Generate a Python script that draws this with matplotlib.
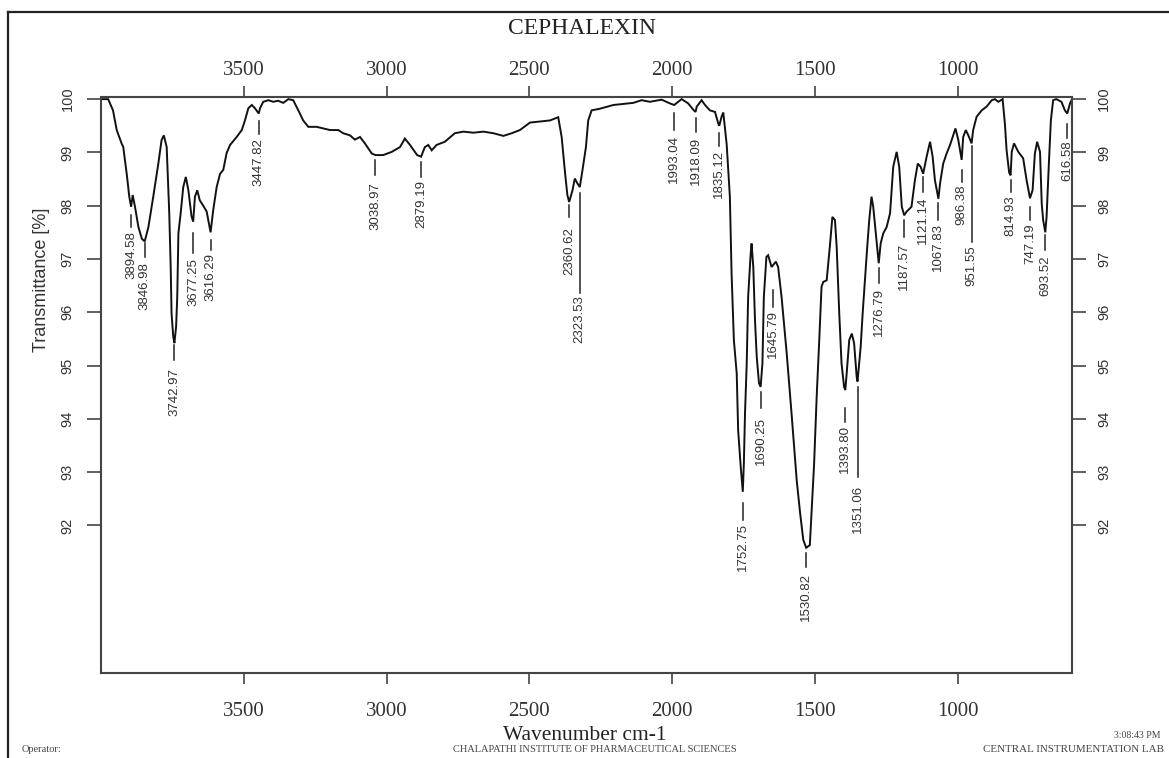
import matplotlib
matplotlib.use("Agg")
import matplotlib.pyplot as plt
from matplotlib import font_manager
from matplotlib.lines import Line2D

# IR spectrum of cephalexin, transmittance vs wavenumber (cm-1)
wavenumber = [
    4000, 3975, 3958, 3945, 3928, 3922, 3910, 3901, 3894.58, 3889, 3881, 3869, 3857, 3846.98,
    3834, 3817, 3799, 3788, 3780, 3770, 3761, 3756, 3753, 3747, 3742.97, 3737, 3733, 3729,
    3721, 3712, 3703, 3694, 3683, 3677.25, 3671, 3663, 3654, 3642, 3630, 3616.29, 3607, 3595,
    3583, 3572, 3560, 3548, 3525, 3507, 3496, 3484, 3472, 3461, 3447.82, 3443, 3432, 3414,
    3397, 3380, 3362, 3344, 3327, 3309, 3292, 3274, 3245, 3222, 3198, 3169, 3152, 3128,
    3111, 3093, 3076, 3052, 3038.97, 3012, 2982, 2953, 2936, 2918, 2893, 2879.19, 2866, 2854,
    2842, 2825, 2796, 2761, 2731, 2696, 2661, 2626, 2591, 2562, 2533, 2498, 2463, 2428,
    2399, 2387, 2375, 2367, 2360.62, 2349, 2341, 2332, 2323.53, 2314, 2302, 2294, 2282, 2253,
    2206, 2171, 2136, 2107, 2078, 2037, 2008, 1993.04, 1979, 1967, 1944, 1926, 1918.09, 1914,
    1897, 1885, 1868, 1850, 1839, 1835.12, 1827, 1821, 1809, 1798, 1792, 1784, 1774, 1769,
    1760, 1752.75, 1749, 1745, 1739, 1734, 1725, 1722, 1716, 1710, 1704, 1696, 1690.25, 1684,
    1679, 1670, 1664, 1652, 1645.79, 1637, 1629, 1617, 1599, 1582, 1564, 1552, 1541, 1530.82,
    1518, 1512, 1503, 1494, 1485, 1477, 1471, 1459, 1448, 1439, 1430, 1424, 1415, 1407,
    1398, 1393.80, 1389, 1380, 1371, 1363, 1354, 1351.06, 1340, 1333, 1325, 1317, 1310, 1302,
    1296, 1286, 1276.79, 1270, 1261, 1249, 1237, 1226, 1214, 1205, 1196, 1187.57, 1179, 1162,
    1150, 1140, 1130, 1121.14, 1109, 1097, 1088, 1080, 1067.83, 1062, 1051, 1039, 1027, 1016,
    1008, 998, 986.38, 981, 972, 963, 951.55, 946, 934, 916, 899, 881, 870, 858,
    843, 835, 829, 820, 814.93, 811, 803, 788, 771, 759, 747.19, 738, 730, 722,
    712, 706, 701, 693.52, 689, 681, 674, 666, 655, 637, 625, 616.58, 607, 600,
]
transmittance = [
    100.0, 100.0, 99.79, 99.42, 99.17, 99.10, 98.60, 98.17, 97.98, 98.20, 97.98, 97.60, 97.38, 97.33,
    97.60, 98.17, 98.80, 99.23, 99.32, 99.10, 97.86, 96.85, 95.98, 95.54, 95.42, 95.73, 96.29, 97.48,
    97.86, 98.35, 98.54, 98.29, 97.80, 97.70, 98.17, 98.29, 98.10, 98.00, 97.89, 97.50, 97.92, 98.35,
    98.60, 98.67, 98.99, 99.14, 99.29, 99.42, 99.60, 99.83, 99.89, 99.83, 99.73, 99.83, 99.95, 99.98,
    99.95, 99.97, 99.93, 100.0, 99.98, 99.79, 99.60, 99.48, 99.48, 99.45, 99.42, 99.42, 99.36, 99.32,
    99.24, 99.29, 99.17, 98.98, 98.95, 98.95, 99.01, 99.10, 99.26, 99.14, 98.95, 98.92, 99.10, 99.14,
    99.04, 99.14, 99.20, 99.36, 99.39, 99.37, 99.39, 99.36, 99.31, 99.36, 99.42, 99.56, 99.58, 99.60,
    99.66, 99.29, 98.61, 98.20, 98.07, 98.29, 98.51, 98.42, 98.35, 98.67, 99.10, 99.60, 99.79, 99.82,
    99.89, 99.91, 99.93, 99.98, 99.95, 99.99, 99.92, 99.89, 99.95, 100.0, 99.92, 99.80, 99.76, 99.86,
    99.98, 99.89, 99.79, 99.76, 99.55, 99.50, 99.67, 99.75, 99.14, 98.17, 96.73, 95.48, 94.85, 93.79,
    93.10, 92.63, 93.16, 94.10, 95.04, 96.29, 97.11, 97.29, 96.85, 95.85, 95.17, 94.67, 94.60, 95.04,
    96.29, 97.04, 97.07, 96.85, 96.89, 96.95, 96.85, 96.29, 95.23, 94.10, 92.85, 92.23, 91.73, 91.58,
    91.63, 92.23, 93.16, 94.42, 95.48, 96.48, 96.57, 96.60, 97.23, 97.79, 97.73, 97.23, 95.98, 95.04,
    94.60, 94.54, 94.85, 95.48, 95.60, 95.42, 94.79, 94.70, 95.35, 95.98, 96.60, 97.23, 97.73, 98.17,
    97.98, 97.42, 96.92, 97.29, 97.48, 97.60, 97.86, 98.73, 99.01, 98.73, 97.98, 97.82, 97.89, 97.98,
    98.48, 98.79, 98.73, 98.60, 98.92, 99.20, 98.92, 98.48, 98.13, 98.42, 98.79, 98.98, 99.14, 99.32,
    99.45, 99.23, 98.86, 99.29, 99.42, 99.32, 99.17, 99.42, 99.67, 99.79, 99.86, 99.98, 100.0, 99.95,
    100.0, 99.54, 99.04, 98.62, 98.57, 99.01, 99.17, 99.01, 98.89, 98.48, 98.14, 98.29, 98.98, 99.20,
    99.01, 98.04, 97.73, 97.50, 97.79, 98.79, 99.60, 99.98, 100.0, 99.95, 99.79, 99.73, 99.92, 100.0,
]

# labelled band positions
peaks = [3894.58, 3846.98, 3742.97, 3677.25, 3616.29, 3447.82, 3038.97, 2879.19, 2360.62,
         2323.53, 1993.04, 1918.09, 1835.12, 1752.75, 1690.25, 1645.79, 1530.82, 1393.80,
         1351.06, 1276.79, 1187.57, 1121.14, 1067.83, 986.38, 951.55, 814.93, 747.19,
         693.52, 616.58]

# label layout in pixels below the band: (gap, tick length, gap before text)
label_layout = [(8, 12, 4), (2, 14, 5), (2, 15, 8), (11, 20, 5), (8, 10, 3), (7, 13, 5),
                (5, 15, 7), (5, 15, 3), (3, 12, 10), (6, 100, 2), (8, 17, 5), (6, 14, 5),
                (7, 13, 4), (11, 17, 3), (5, 16, 9), (25, 17, 3), (5, 14, 6), (18, 14, 3),
                (5, 90, 8), (5, 15, 5), (5, 17, 6), (3, 15, 5), (4, 17, 3), (10, 12, 3),
                (3, 96, 3), (5, 12, 3), (9, 13, 3), (3, 15, 5), (10, 14, 3)]

x_ticks = [3500, 3000, 2500, 2000, 1500, 1000]
y_ticks = [92, 93, 94, 95, 96, 97, 98, 99, 100]

installed = {f.name for f in font_manager.fontManager.ttflist}
sans = ["Liberation Sans Narrow", "Liberation Sans", "DejaVu Sans"]
sans = [f for f in sans if f in installed] or ["DejaVu Sans"]
serif = ["Liberation Serif", "DejaVu Serif"]

W, H = 1169, 758
fig = plt.figure(figsize=(W / 100, H / 100), dpi=100)
fig.patch.set_facecolor("white")

# page border (cut at the right and bottom)
fig.add_artist(Line2D([8 / W, 8 / W], [0, 1 - 12 / H], color="#222222", lw=1.6))
fig.add_artist(Line2D([8 / W, 1], [1 - 12 / H, 1 - 12 / H], color="#222222", lw=1.6))

ax_l, ax_r, ax_t, ax_b = 101, 1072, 97, 673
ax = fig.add_axes([ax_l / W, 1 - ax_b / H, (ax_r - ax_l) / W, (ax_b - ax_t) / H])
ymin, ymax = 89.23, 100.04
ax.set_xlim(4000, 600)
ax.set_ylim(ymin, ymax)
t_per_px = (ymax - ymin) / (ax_b - ax_t)

ax.plot(wavenumber, transmittance, color="#111111", lw=1.4, solid_joinstyle="miter")

text_col = "#333333"
for wn, (gap, tick, tgap) in zip(peaks, label_layout):
    t = transmittance[wavenumber.index(wn)]
    y0 = t - gap * t_per_px
    y1 = t - (gap + tick) * t_per_px
    ax.plot([wn, wn], [y0, y1], color="#222222", lw=1.1)
    ax.text(wn, y1 - tgap * t_per_px, f"{wn:.2f}", rotation=90, ha="center", va="top",
            fontsize=9.5, family=sans, color=text_col)

for s in ax.spines.values():
    s.set_color("#444444")
    s.set_linewidth(1.5)

# bottom / left axes
ax.set_xticks(x_ticks)
ax.set_xticklabels([str(v) for v in x_ticks], family=serif, fontsize=15, color=text_col)
ax.tick_params(axis="x", direction="out", length=8, width=1.2, color="#444444", pad=13)
ax.set_yticks(y_ticks)
ax.set_yticklabels([str(v) for v in y_ticks], rotation=90, va="center", family=sans,
                   fontsize=10.5, color=text_col)
ax.tick_params(axis="y", direction="out", length=10, width=1.2, color="#444444", pad=9)

# top / right axes mirror the scales
top = ax.secondary_xaxis("top")
top.set_xticks(x_ticks)
top.set_xticklabels([str(v) for v in x_ticks], family=serif, fontsize=15, color=text_col)
top.tick_params(direction="out", length=8, width=1.2, color="#444444", pad=4)
top.spines["top"].set_visible(False)
right = ax.secondary_yaxis("right")
right.set_yticks(y_ticks)
right.set_yticklabels([str(v) for v in y_ticks], rotation=90, va="center", family=sans,
                      fontsize=10.5, color=text_col)
right.tick_params(direction="out", length=10, width=1.2, color="#444444", pad=8)
right.spines["right"].set_visible(False)

fig.text(42 / W, 1 - 280 / H, "Transmittance [%]", rotation=90, ha="center", va="center",
         family=sans, fontsize=13, color=text_col)
fig.text(582 / W, 1 - 28 / H, "CEPHALEXIN", ha="center", va="center", family=serif,
         fontsize=17, color="#222222")
fig.text(585 / W, 1 - 735 / H, "Wavenumber cm-1", ha="center", va="center", family=serif,
         fontsize=15.5, color="#222222")

# print footer
fig.text(22 / W, 1 - 749 / H, "Operator:", ha="left", va="center", family=serif,
         fontsize=7.5, color="#444444")
fig.text(595 / W, 1 - 749 / H, "CHALAPATHI INSTITUTE OF PHARMACEUTICAL SCIENCES", ha="center",
         va="center", family=serif, fontsize=7.5, color="#444444")
fig.text(1160 / W, 1 - 736 / H, "3:08:43 PM", ha="right", va="center", family=serif,
         fontsize=7, color="#444444")
fig.text(1164 / W, 1 - 749 / H, "CENTRAL INSTRUMENTATION LAB", ha="right", va="center",
         family=serif, fontsize=7.9, color="#444444")

fig.savefig("out.png", dpi=100)
